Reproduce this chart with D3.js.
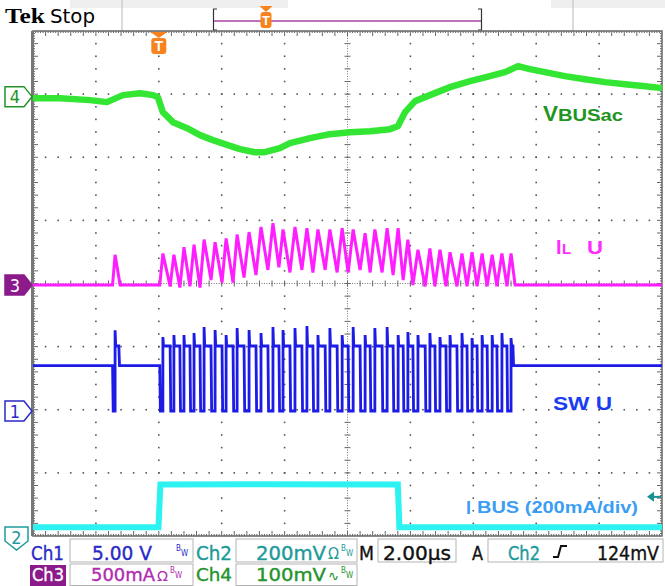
<!DOCTYPE html>
<html>
<head>
<meta charset="utf-8">
<script src="https://cdn.jsdelivr.net/npm/d3@7/dist/d3.min.js"></script>
<style>
html,body{margin:0;padding:0;background:#fff;overflow:hidden}
svg{display:block}
</style>
</head>
<body>
<svg id="scope" width="665" height="586"></svg>
<script>
const timeDomain = [-4, 16];          // µs, trigger at 0, 2.00 µs/div
const divDomain  = [-4, 4];           // vertical divisions
const timeMajor  = [-4,-2,0,2,4,6,8,10,12,14,16];
const divMajor   = [-4,-3,-2,-1,0,1,2,3,4];

const chNames   = ["Ch1","Ch2","Ch3","Ch4"];
const chScale   = ["5.00 V","200mV","500mA","100mV"];
const chPerDiv  = [5, 200, 0.5, 100];          // V, mV, A, mV per division
const chGround  = [-2.02, -4, -0.025, 2.96];   // ground marker level (div)
const timebase  = "2.00µs";
const trigSrc   = "Ch2";
const trigLevel = "124mV";
const trigLevelMv = 124;

// Ch4 : VBUSac (mV, AC coupled)
const vbusT  = [-4.00,-3.14,-2.19,-1.65,-1.14,-0.60,-0.18,-0.03,0.13,0.45,0.90,1.31,1.72,2.10,2.58,3.06,3.37,3.85,4.17,4.81,5.44,6.08,6.72,7.35,7.60,7.83,8.15,8.62,9.26,9.90,10.53,11.01,11.42,11.80,12.28,12.91,13.55,14.19,14.82,15.46,16.00];
const vbusMv = [-2.4,-2.4,-5.5,-8.7,2.4,5.5,2.4,-0.8,-24.6,-40.4,-49.9,-61.0,-68.9,-75.3,-83.2,-88.0,-88.0,-81.6,-73.7,-65.8,-59.4,-56.3,-54.7,-51.5,-46.8,-24.6,-7.1,2.4,15.1,24.6,32.5,38.8,48.3,43.6,38.8,32.5,27.7,23.0,19.8,16.6,13.5];

// switching instants (µs): switch on (IL starts rising, SW low) / switch off (IL peak, SW high)
const switchOnT  = [-1.47,0.03,0.36,0.67,0.99,1.31,1.66,2.01,2.36,2.71,3.09,3.47,3.82,4.17,4.55,4.90,5.29,5.67,6.02,6.40,6.72,7.10,7.45,7.77,8.08,8.47,8.78,9.13,9.48,9.80,10.12,10.44,10.75,11.07];
const switchOffT = [-1.39,0.13,0.48,0.80,1.12,1.44,1.79,2.14,2.49,2.87,3.25,3.63,3.95,4.33,4.71,5.06,5.44,5.83,6.18,6.56,6.87,7.26,7.61,7.92,8.24,8.62,8.94,9.26,9.64,9.96,10.28,10.60,10.91,11.20];

// Ch3 : IL (A)
const ilPeakA   = [0.24,0.25,0.24,0.30,0.32,0.36,0.34,0.37,0.40,0.42,0.46,0.49,0.44,0.46,0.45,0.44,0.44,0.45,0.44,0.41,0.44,0.45,0.45,0.36,0.28,0.29,0.28,0.26,0.25,0.26,0.25,0.24,0.25,0.25];
const ilValleyA = [0,0,-0.01,-0.02,-0.01,-0.02,0.04,0.02,0.02,0.06,0.08,0.12,0.14,0.10,0.12,0.10,0.12,0.10,0.10,0.12,0.10,0.10,0.08,0.04,0,-0.01,-0.01,-0.01,-0.01,-0.01,-0.01,-0.01,-0.01,-0.01];
const ilZeroT   = [-1.23, 11.33];

// Ch1 : SW node (V)
const swHighV = 5.15, swLowV = 0, swIdleV = 3.6;
const swSpikeV = [6.4,5.86,6.02,6.02,6.18,6.66,6.42,6.02,6.58,6.42,6.18,6.66,6.42,6.58,6.74,6.02,6.58,6.02,6.66,6.02,6.58,6.66,6.02,6.26,6.02,6.18,5.86,6.02,6.18,5.78,6.02,6.02,6.18,5.78];
const swIdleT  = [-1.27, 11.26];

// Ch2 : IBUS (mV at 200mV/div)
const ibusT  = [-4.00,-0.01,0.05,3.00,7.60,7.65,16.00];
const ibusMv = [28,28,163,164,163,28,28];

const traceLabels = ["VBUSac","IL U","SW U","IBUS (200mA/div)"];

// ---------------- drawing ----------------
const svg = d3.select("#scope");
const X = d3.scaleLinear().domain(timeDomain).range([33, 662]);
const Y = d3.scaleLinear().domain(divDomain).range([536, 31]);
const chY = (ch, v) => Y(chGround[ch] + v / chPerDiv[ch]);

const COL = {ch1:"#1c1ce6", ch2:"#2cf2f2", ch3:"#ff1eff", ch4:"#33e633",
  t1:"#2a2ac4", t2:"#1d9a9a", t3:"#b02cb0", t4:"#23932a", orange:"#f7821e", purple:"#8b1a8b"};

// header
svg.append("rect").attr("x",70).attr("y",0).attr("width",218).attr("height",8).attr("fill","#efefef");
svg.append("rect").attr("x",551).attr("y",0).attr("width",114).attr("height",8).attr("fill","#efefef");
[122,573].forEach(x=>svg.append("line").attr("x1",x).attr("x2",x).attr("y1",0).attr("y2",31).attr("stroke","#c4c4c4").attr("stroke-width",1.2));
svg.append("text").attr("x",5).attr("y",23).text("Tek")
  .attr("font-family","'Liberation Serif','DejaVu Serif',serif").attr("font-weight","bold").attr("font-size",21)
  .attr("textLength",40).attr("lengthAdjust","spacingAndGlyphs");
svg.append("text").attr("x",50).attr("y",23).text("Stop")
  .attr("font-family","'DejaVu Sans Condensed','DejaVu Sans',sans-serif").attr("font-size",19)
  .attr("textLength",45).attr("lengthAdjust","spacingAndGlyphs");
// record bar
svg.append("line").attr("x1",214).attr("x2",481).attr("y1",21).attr("y2",21).attr("stroke","#a444a4").attr("stroke-width",1.6);
svg.append("path").attr("d","M217,9 H213.5 V30 H217").attr("fill","none").attr("stroke","#333").attr("stroke-width",1.2);
svg.append("path").attr("d","M478,9 H481.5 V30 H478").attr("fill","none").attr("stroke","#333").attr("stroke-width",1.2);
function trigMarker(cx, top, w, h, fs){
  svg.append("path").attr("d",`M${cx-w/2-1},${top} H${cx+w/2+1} L${cx},${top+6} Z`).attr("fill",COL.orange);
  svg.append("rect").attr("x",cx-w/2).attr("y",top+6).attr("width",w).attr("height",h).attr("rx",3).attr("fill",COL.orange);
  svg.append("text").attr("x",cx).attr("y",top+6+h-3).attr("text-anchor","middle").text("T")
    .attr("fill","#fff").attr("font-family","'Liberation Sans',Arial,sans-serif").attr("font-weight","bold").attr("font-size",fs);
}
trigMarker(266, 6, 11, 16, 13);

// graticule
const grid = svg.append("g");
const x0 = X(timeDomain[0]), x1 = X(timeDomain[1]), y0 = Y(divDomain[1]), y1 = Y(divDomain[0]);
const tPerDiv = (timeDomain[1]-timeDomain[0]) / 10;
const tCenter = (timeDomain[0]+timeDomain[1]) / 2;
const dots = [];
timeMajor.slice(1,-1).forEach(t=>{
  if (t === tCenter) return;
  for (let k=1;k<40;k++) dots.push([X(t), Y(divDomain[0]+0.2*k)]);
});
divMajor.slice(1,-1).forEach(d=>{
  if (d === 0) return;
  for (let k=1;k<50;k++) dots.push([X(timeDomain[0]+0.2*tPerDiv*k), Y(d)]);
});
grid.selectAll("rect.dot").data(dots).join("rect").attr("class","dot")
  .attr("x",d=>d[0]-0.8).attr("y",d=>d[1]-0.8).attr("width",1.6).attr("height",1.6).attr("fill","#555");
// center lines: fine dots + ticks
const fine = [], ticks = [];
for (let k=1;k<250;k++){ fine.push([X(timeDomain[0]+0.04*tPerDiv*k), Y(0)]); }
for (let k=1;k<200;k++){ fine.push([X(tCenter), Y(divDomain[0]+0.04*k)]); }
grid.selectAll("rect.fine").data(fine).join("rect").attr("class","fine")
  .attr("x",d=>d[0]-0.5).attr("y",d=>d[1]-0.5).attr("width",1).attr("height",1).attr("fill","#777");
for (let k=1;k<50;k++){ const x=X(timeDomain[0]+0.2*tPerDiv*k); ticks.push([x,Y(0)-3,x,Y(0)+3]); }
for (let k=1;k<40;k++){ const y=Y(divDomain[0]+0.2*k); ticks.push([X(tCenter)-3,y,X(tCenter)+3,y]); }
// edge ticks
for (let k=1;k<250;k++){ const x=X(timeDomain[0]+0.04*tPerDiv*k); const L=(k%5===0)?5:2;
  ticks.push([x,y0,x,y0+L]); ticks.push([x,y1,x,y1-L]); }
for (let k=1;k<200;k++){ const y=Y(divDomain[0]+0.04*k); const L=(k%5===0)?5:2;
  ticks.push([x0,y,x0+L,y]); ticks.push([x1,y,x1-L,y]); }
grid.selectAll("line.tk").data(ticks).join("line").attr("class","tk")
  .attr("x1",d=>d[0]).attr("y1",d=>d[1]).attr("x2",d=>d[2]).attr("y2",d=>d[3])
  .attr("stroke","#666").attr("stroke-width",1);
grid.append("rect").attr("x",x0).attr("y",y0).attr("width",x1-x0).attr("height",y1-y0)
  .attr("fill","none").attr("stroke","#666").attr("stroke-width",1.5);
grid.append("line").attr("x1",x0-0.5).attr("x2",x0-0.5).attr("y1",y0).attr("y2",y1).attr("stroke","#777").attr("stroke-width",3);

// traces
const line = d3.line().x(d=>X(d.t)).y(d=>d.y);
// Ch4
svg.append("path").attr("d", line(vbusT.map((t,i)=>({t, y: chY(3, vbusMv[i])}))))
  .attr("fill","none").attr("stroke",COL.ch4).attr("stroke-width",6.5).attr("stroke-linejoin","round");
// Ch3
const ilEv = [];
switchOnT.forEach((t,i)=>ilEv.push({t, v: ilValleyA[i]}));
switchOffT.forEach((t,i)=>ilEv.push({t, v: ilPeakA[i]}));
ilZeroT.forEach(t=>ilEv.push({t, v: 0}));
ilEv.sort((a,b)=>a.t-b.t);
const ilPts = [{t: timeDomain[0], v: 0}, ...ilEv, {t: timeDomain[1], v: 0}];
svg.append("path").attr("d", line(ilPts.map(d=>({t:d.t, y: chY(2, d.v)}))))
  .attr("fill","none").attr("stroke",COL.ch3).attr("stroke-width",3);
// Ch1
const swEv = [];
switchOnT.forEach(t=>swEv.push({t, v: swLowV}));
switchOffT.forEach((t,i)=>swEv.push({t, v: swHighV, spike: swSpikeV[i]}));
swIdleT.forEach(t=>swEv.push({t, v: swIdleV}));
swEv.sort((a,b)=>a.t-b.t);
const swPts = [{t: timeDomain[0], v: swIdleV}];
let cur = swIdleV;
swEv.forEach(e=>{
  swPts.push({t:e.t, v:cur});
  if (e.spike) swPts.push({t:e.t, v:e.spike});
  cur = e.v;
  swPts.push({t:e.t+0.02, v:cur});
});
swPts.push({t: timeDomain[1], v: cur});
svg.append("path").attr("d", line(swPts.map(d=>({t:d.t, y: chY(0, d.v)}))))
  .attr("fill","none").attr("stroke",COL.ch1).attr("stroke-width",2.8);
// Ch2
svg.append("path").attr("d", line(ibusT.map((t,i)=>({t, y: chY(1, ibusMv[i])}))))
  .attr("fill","none").attr("stroke",COL.ch2).attr("stroke-width",6);

// trigger marker
trigMarker(X(0), 32, 15, 16, 14);

// trace labels
const lab = (x,y,txt,size,col,len)=>{ const t=svg.append("text").attr("x",x).attr("y",y).text(txt)
  .attr("font-family","'Liberation Sans',Arial,sans-serif").attr("font-weight","bold").attr("font-size",size).attr("fill",col);
  if(len) t.attr("textLength",len).attr("lengthAdjust","spacingAndGlyphs"); return t; };
lab(543,121,traceLabels[0].slice(0,1),22,"#1e961e",15);
lab(558,121,traceLabels[0].slice(1),17,"#1e961e",65);
lab(556,254,traceLabels[1].slice(0,1),20,"#ff2dff");
lab(562,254,traceLabels[1].slice(1,2),14,"#ff2dff",9);
lab(587,254,traceLabels[1].slice(3),19,"#ff2dff",16);
lab(553,410,traceLabels[2],19,"#1b3cf5",59);
lab(466,514,traceLabels[3].slice(0,1),18,"#3c9df5");
lab(477,513,traceLabels[3].slice(1),16,"#3c9df5",161);

// trigger level arrow (right edge)
const ty = chY(1, trigLevelMv);
svg.append("path").attr("d",`M647,${ty} L654,${ty-5} L654,${ty+5} Z`).attr("fill","#169090");
svg.append("line").attr("x1",653).attr("x2",661).attr("y1",ty).attr("y2",ty).attr("stroke","#169090").attr("stroke-width",2);

// channel ground markers
const mkFont = "'DejaVu Sans Condensed','DejaVu Sans',sans-serif";
function rightMarker(y, label, col, filled){
  svg.append("path").attr("d",`M5,${y-10} H24 L32,${y} L24,${y+10} H5 Z`)
    .attr("fill",filled?col:"#fff").attr("stroke",col).attr("stroke-width",1.5);
  svg.append("text").attr("x",15).attr("y",y+6.5).attr("text-anchor","middle").text(label)
    .attr("fill",filled?"#fff":col).attr("font-family",mkFont).attr("font-size",18);
}
rightMarker(chY(3,0), "4", COL.t4, false);
rightMarker(chY(2,0), "3", COL.purple, true);
rightMarker(chY(0,0), "1", COL.t1, false);
svg.append("path").attr("d","M5,527 H28 V541 L16.5,550 L5,541 Z").attr("fill","#fff").attr("stroke",COL.t2).attr("stroke-width",1.5);
svg.append("text").attr("x",16.5).attr("y",544).attr("text-anchor","middle").text("2")
  .attr("fill",COL.t2).attr("font-family",mkFont).attr("font-size",18);

// status bar
const sb = svg.append("g").attr("font-family","'DejaVu Sans Condensed','Liberation Sans Narrow','DejaVu Sans',sans-serif");
[[70,539,123,23],[236,539,121,23],[378,539,78,23],[488,539,175,23],[70,564,123,21.5],[236,564,121,21.5]]
  .forEach(b=>sb.append("rect").attr("x",b[0]).attr("y",b[1]).attr("width",b[2]).attr("height",b[3])
    .attr("fill","none").attr("stroke","#b4b4b4").attr("stroke-width",1));
sb.append("rect").attr("x",30).attr("y",565).attr("width",36).attr("height",21).attr("fill",COL.purple);
const st = (x,y,txt,col,len,size)=>{ const t=sb.append("text").attr("x",x).attr("y",y).text(txt)
  .attr("fill",col).attr("font-size",size||20).attr("stroke",col).attr("stroke-width",size?0:0.35);
  if(len) t.attr("textLength",len).attr("lengthAdjust","spacingAndGlyphs"); return t; };
const bw = (x,y,col)=>{ st(x,y-8,"B",col,null,8); st(x+5,y-3,"W",col,null,8); };
st(31,560,chNames[0],COL.t1,33);
st(92,560,chScale[0],COL.t1,60);
bw(176,559,COL.t1);
st(196,560,chNames[1],COL.t2,36);
st(256,560,chScale[1],COL.t2,70);
st(328,559,"Ω",COL.t2,11,15);
bw(341,559,COL.t2);
st(359,560,"M","#111",15);
st(383,560,timebase,"#111",68);
st(472,560,"A","#111",11);
st(508,560,trigSrc,COL.t2,32);
sb.append("path").attr("d","M553,557 H558 L561,546 H567").attr("fill","none").attr("stroke","#111").attr("stroke-width",2);
st(597,560,trigLevel,"#111",62);
const r2 = 581;
st(32,r2,chNames[2],"#fff",32).attr("font-size",18.5);
st(91,r2,chScale[2],COL.t3,64).attr("font-size",18.5);
st(157,r2,"Ω",COL.t3,11,14);
bw(170,r2,COL.t3);
st(196,r2,chNames[3],COL.t4,36).attr("font-size",18.5);
st(256,r2,chScale[3],COL.t4,70).attr("font-size",18.5);
st(328,r2,"∿",COL.t4,11,14);
bw(341,r2,COL.t4);
</script>
</body>
</html>
